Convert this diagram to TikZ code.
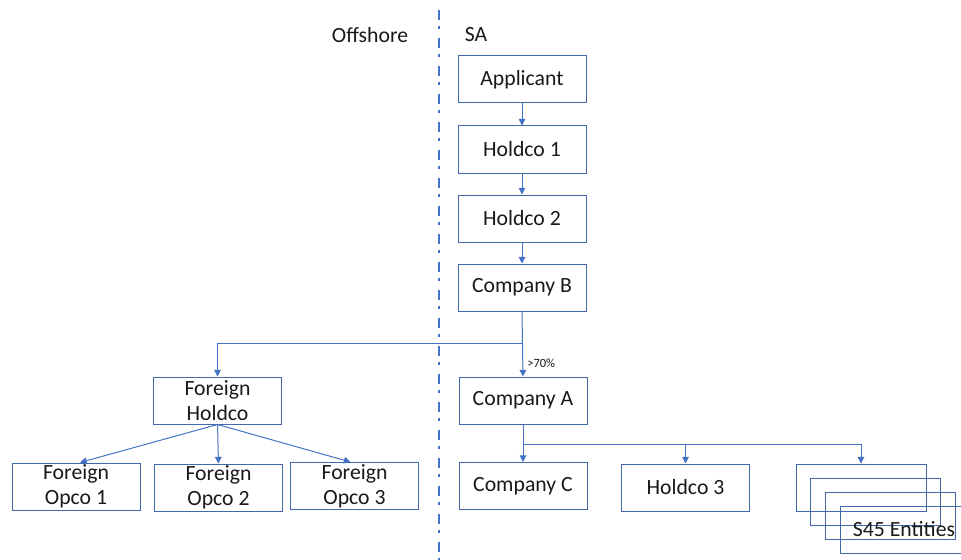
\documentclass[tikz,border=0pt]{standalone}
\usepackage{fontspec}
\setmainfont{Carlito}
\usetikzlibrary{arrows.meta}
\definecolor{boxcol}{RGB}{65,105,170}
\definecolor{linecol}{RGB}{68,114,196}
\definecolor{txtcol}{RGB}{25,25,25}
\begin{document}
\begin{tikzpicture}[x=0.75pt,y=-0.75pt,
  box/.style={draw=boxcol, line width=0.75pt, minimum width=96pt, minimum height=35.25pt,
    inner sep=0pt, align=center, text=txtcol, font=\fontsize{16.3}{18.75}\selectfont},
  wbox/.style={box, minimum width=97.5pt},
  conn/.style={draw=linecol, line width=0.75pt, -{Triangle[length=5pt,width=5pt]}},
  lbl/.style={text=txtcol, font=\fontsize{16.3}{18.75}\selectfont, inner sep=0pt}]
\clip (0,0) rectangle (961,560);
% divider
\draw[linecol, line width=2.2pt, dash pattern=on 7.5pt off 4.5pt on 2.5pt off 6.5pt] (439,10) -- (439,560);
% labels
\node[lbl] (off) at (370,35) {Offshore};
\node[lbl] (sa) at (476,35) {SA};
% SA chain
\node[box] (app) at (522,79.5) {Applicant};
\node[box] (h1) at (522,149.5) {Holdco 1};
\node[box] (h2) at (522,218.5) {Holdco 2};
\node[box] (cb) at (522,287.5) {Company B};
\node[box] (ca) at (523,400.5) {Company A};
\node[box] (cc) at (523,486) {Company C};
\node[box] (h3) at (685.5,487.5) {Holdco 3};
% S45 stack
\node[wbox] (s1) at (861,487.5) {};
\node[wbox] (s2) at (875.5,502) {};
\node[wbox] (s3) at (890,515.5) {};
\node[wbox] (s4) at (905,529.5) {};
\node[lbl] (s45) at (904,529) {S45 Entities};
% offshore
\node[box] (fh) at (217.5,400.5) {Foreign\\Holdco};
\node[box] (o1) at (76,486.5) {Foreign\\Opco 1};
\node[box] (o2) at (218.5,487.5) {Foreign\\Opco 2};
\node[box] (o3) at (354.5,486) {Foreign\\Opco 3};
% connectors
\draw[conn] (app) -- (h1);
\draw[conn] (h1) -- (h2);
\draw[conn] (h2) -- (cb);
\draw[conn] (cb.south) -- (ca.north);
\coordinate (j1) at (522,343);
\draw[conn] (j1) -| (fh.north);
\node[font=\fontsize{9.4}{11}\selectfont, text=txtcol, anchor=west, inner sep=0pt] (pct) at (527,363) {>70\%};
\coordinate (j2) at (523,444);
\draw[conn] (ca.south) -- (cc.north);
\draw[conn] (j2) -| (h3.north);
\draw[conn] (j2) -| (s1.north);
\draw[conn] (fh.south) -- ([xshift=3pt]o1.north);
\draw[conn] (fh.south) -- (o2.north);
\draw[conn] (fh.south) -- ([xshift=-3pt]o3.north);
\end{tikzpicture}
\end{document}
